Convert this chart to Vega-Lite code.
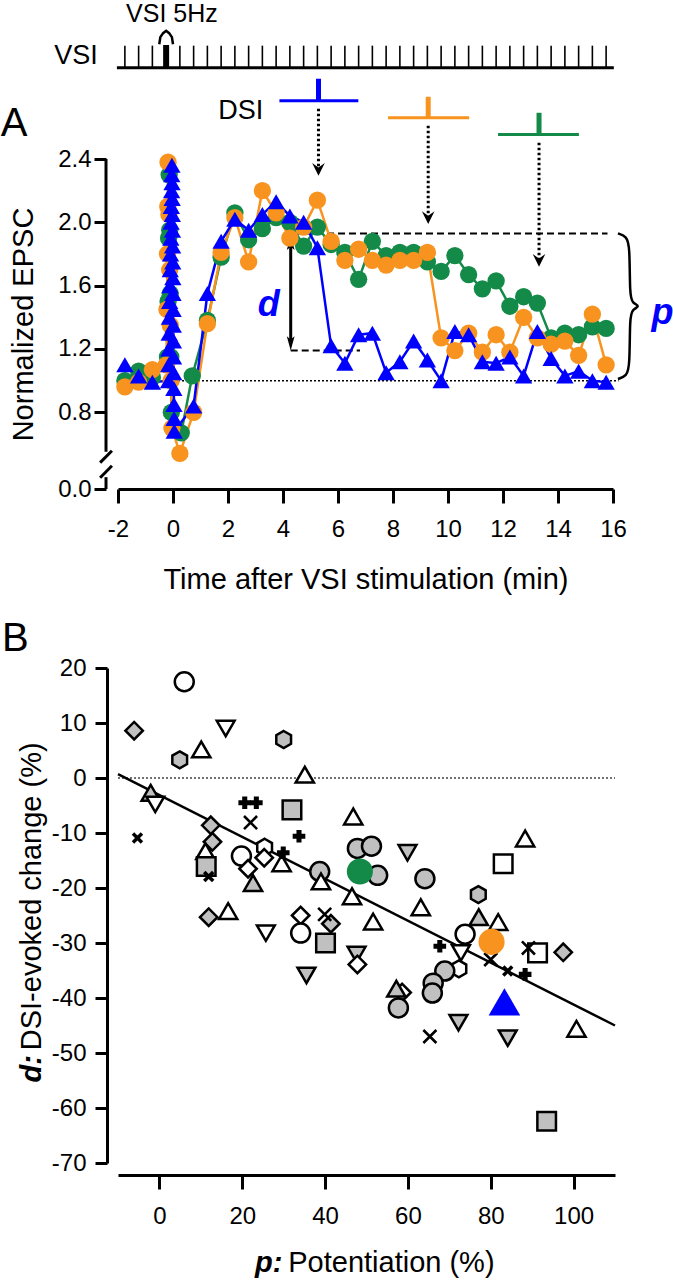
{
  "$schema": "https://vega.github.io/schema/vega-lite/v6.json",
  "autosize": {"type": "pad"},
  "padding": 0,
  "bounds": "flush",
  "spacing": 179,
  "resolve": {"scale": {"color": "independent", "shape": "independent", "size": "independent", "fill": "independent"}},
  "config": {
    "view": {"stroke": null},
    "font": "Liberation Sans",
    "text": {"font": "Liberation Sans", "color": "black"},
    "axis": {"labelFont": "Liberation Sans", "titleFont": "Liberation Sans", "domainColor": "black", "tickColor": "black", "labelColor": "black", "titleColor": "black", "grid": false, "labelFlush": false, "labelOverlap": false, "labelBound": false}
  },
  "vconcat": [
    {
      "width": 495,
      "height": 330,
      "resolve": {"scale": {"color": "independent", "shape": "independent", "size": "independent"}},
      "encoding": {
        "x": {"field": "t", "type": "quantitative", "scale": {"domain": [-2, 16], "nice": false, "zero": false},
          "axis": {"values": [-2, 0, 2, 4, 6, 8, 10, 12, 14, 16], "labelExpr": "'' + datum.value", "domainWidth": 3, "tickSize": 14, "tickWidth": 3, "labelFontSize": 24, "labelPadding": 14, "title": "Time after VSI stimulation (min)", "titleFontSize": 29, "titleFontWeight": "normal", "titleY": 90, "titleBaseline": "middle"}},
        "y": {"field": "v", "type": "quantitative", "scale": {"domain": [0, 0.45, 2.4], "range": [330, 308.7, 0], "nice": false, "zero": false},
          "axis": {"values": [0, 0.8, 1.2, 1.6, 2, 2.4], "format": ".1f", "domain": false, "offset": 12, "tickSize": 12, "tickWidth": 3, "labelFontSize": 24, "labelPadding": 3, "title": "Normalized EPSC", "titleFontSize": 29, "titleFontWeight": "normal", "titleX": -83, "titleBaseline": "middle"}}
      },
      "layer": [
        {"data": {"values": [{"t": -6.244, "t2": 18.229, "v": 3.4}]},
         "mark": {"type": "rule", "strokeWidth": 1, "strokeOpacity": 0},
         "encoding": {"x2": {"field": "t2"}}},
        {"data": {"values": [{"t": -2, "t2": 16.2, "v": 1.0}]},
         "mark": {"type": "rule", "strokeDash": [2, 2], "strokeWidth": 1.5, "color": "black"},
         "encoding": {"x2": {"field": "t2"}}},
        {"data": {"values": [{"t": 4.4, "t2": 15.8, "v": 1.93}, {"t": 4.28, "t2": 6.8, "v": 1.19}]},
         "mark": {"type": "rule", "strokeDash": [7, 4], "strokeWidth": 2, "color": "black"},
         "encoding": {"x2": {"field": "t2"}}},
        {"data": {"values": [{"t": 4.28, "v": 1.85, "v2": 1.25}]},
         "mark": {"type": "rule", "strokeWidth": 3, "color": "black"},
         "encoding": {"y2": {"field": "v2"}}},
        {"data": {"values": [{"t": 4.28, "v": 1.87}]},
         "mark": {"type": "point", "shape": "M0,-1L0.55,1L0,0.55L-0.55,1Z", "filled": true, "color": "black", "opacity": 1, "size": 200},
         "encoding": {}},
        {"data": {"values": [{"t": 4.28, "v": 1.235}]},
         "mark": {"type": "point", "shape": "M0,1L0.55,-1L0,-0.55L-0.55,-1Z", "filled": true, "color": "black", "opacity": 1, "size": 200},
         "encoding": {}},
        {"data": {"values": [
          {"t": -2.436, "t2": -2.436, "v": 0.55, "v2": 2.4},
          {"t": -2.436, "t2": -2.436, "v": 0, "v2": 0.25},
          {"t": -2.65, "t2": -2.22, "v": 0.482, "v2": 0.557},
          {"t": -2.65, "t2": -2.22, "v": 0.239, "v2": 0.462}]},
         "mark": {"type": "rule", "strokeWidth": 3, "color": "black"},
         "encoding": {"x2": {"field": "t2"}, "y2": {"field": "v2"}}},
        {"data": {"values": [{"t": -2.04, "t2": 16.03, "v": 2.977}]},
         "mark": {"type": "rule", "strokeWidth": 3, "color": "black"},
         "encoding": {"x2": {"field": "t2"}}},
        {"data": {"values": [
          {"t": -1.75, "v": 2.977, "v2": 3.116}, {"t": -1.25, "v": 2.977, "v2": 3.116}, {"t": -0.75, "v": 2.977, "v2": 3.116},
          {"t": 0.25, "v": 2.977, "v2": 3.116}, {"t": 0.75, "v": 2.977, "v2": 3.116}, {"t": 1.25, "v": 2.977, "v2": 3.116},
          {"t": 1.75, "v": 2.977, "v2": 3.116}, {"t": 2.25, "v": 2.977, "v2": 3.116}, {"t": 2.75, "v": 2.977, "v2": 3.116},
          {"t": 3.25, "v": 2.977, "v2": 3.116}, {"t": 3.75, "v": 2.977, "v2": 3.116}, {"t": 4.25, "v": 2.977, "v2": 3.116},
          {"t": 4.75, "v": 2.977, "v2": 3.116}, {"t": 5.25, "v": 2.977, "v2": 3.116}, {"t": 5.75, "v": 2.977, "v2": 3.116},
          {"t": 6.25, "v": 2.977, "v2": 3.116}, {"t": 6.75, "v": 2.977, "v2": 3.116}, {"t": 7.25, "v": 2.977, "v2": 3.116},
          {"t": 7.75, "v": 2.977, "v2": 3.116}, {"t": 8.25, "v": 2.977, "v2": 3.116}, {"t": 8.75, "v": 2.977, "v2": 3.116},
          {"t": 9.25, "v": 2.977, "v2": 3.116}, {"t": 9.75, "v": 2.977, "v2": 3.116}, {"t": 10.25, "v": 2.977, "v2": 3.116},
          {"t": 10.75, "v": 2.977, "v2": 3.116}, {"t": 11.25, "v": 2.977, "v2": 3.116}, {"t": 11.75, "v": 2.977, "v2": 3.116},
          {"t": 12.25, "v": 2.977, "v2": 3.116}, {"t": 12.75, "v": 2.977, "v2": 3.116}, {"t": 13.25, "v": 2.977, "v2": 3.116},
          {"t": 13.75, "v": 2.977, "v2": 3.116}, {"t": 14.25, "v": 2.977, "v2": 3.116}, {"t": 14.75, "v": 2.977, "v2": 3.116},
          {"t": 15.25, "v": 2.977, "v2": 3.116}, {"t": 15.75, "v": 2.977, "v2": 3.116}]},
         "mark": {"type": "rule", "strokeWidth": 1.6, "color": "black"},
         "encoding": {"y2": {"field": "v2"}}},
        {"data": {"values": [{"t": -0.25, "v": 2.977, "v2": 3.12}]},
         "mark": {"type": "rule", "strokeWidth": 6, "color": "black"},
         "encoding": {"y2": {"field": "v2"}}},
        {"data": {"values": [
          {"t": -0.5, "v": 3.125, "i": 1}, {"t": -0.46, "v": 3.17, "i": 2}, {"t": -0.36, "v": 3.195, "i": 3},
          {"t": -0.25, "v": 3.21, "i": 4}, {"t": -0.14, "v": 3.195, "i": 5}, {"t": -0.04, "v": 3.17, "i": 6}, {"t": 0.0, "v": 3.125, "i": 7}]},
         "mark": {"type": "line", "strokeWidth": 2.5, "color": "black"},
         "encoding": {"order": {"field": "i"}}},
        {"data": {"values": [
          {"t": 3.87, "t2": 6.74, "v": 2.768, "s": "b"},
          {"t": 7.82, "t2": 10.77, "v": 2.661, "s": "o"},
          {"t": 11.82, "t2": 14.76, "v": 2.554, "s": "g"}]},
         "mark": {"type": "rule", "strokeWidth": 3},
         "encoding": {"x2": {"field": "t2"}, "color": {"field": "s", "scale": {"domain": ["g", "o", "b"], "range": ["#138a48", "#f7931e", "#0000ff"]}, "legend": null}}},
        {"data": {"values": [
          {"t": 5.29, "v": 2.768, "v2": 2.907, "s": "b"},
          {"t": 9.28, "v": 2.661, "v2": 2.793, "s": "o"},
          {"t": 13.31, "v": 2.554, "v2": 2.692, "s": "g"}]},
         "mark": {"type": "rule", "strokeWidth": 5},
         "encoding": {"y2": {"field": "v2"}, "color": {"field": "s", "scale": {"domain": ["g", "o", "b"], "range": ["#138a48", "#f7931e", "#0000ff"]}, "legend": null}}},
        {"data": {"values": [
          {"t": 5.29, "v": 2.717, "v2": 2.334},
          {"t": 9.28, "v": 2.61, "v2": 2.03},
          {"t": 13.31, "v": 2.503, "v2": 1.76}]},
         "mark": {"type": "rule", "strokeWidth": 3, "strokeDash": [2.5, 2.5], "color": "black"},
         "encoding": {"y2": {"field": "v2"}}},
        {"data": {"values": [{"t": 5.29, "v": 2.334}, {"t": 9.28, "v": 2.03}, {"t": 13.31, "v": 1.76}]},
         "mark": {"type": "point", "shape": "M-1,-1L0,1L1,-1L0,-0.3Z", "filled": true, "color": "black", "opacity": 1, "size": 160},
         "encoding": {}},
        {"data": {"name": "series"},
         "mark": {"type": "line", "strokeWidth": 2.5},
         "encoding": {"order": {"field": "i"}, "color": {"field": "s", "scale": {"domain": ["g", "o", "b"], "range": ["#138a48", "#f7931e", "#0000ff"]}, "legend": null}}},
        {"data": {"name": "series"},
         "mark": {"type": "point", "filled": true, "opacity": 1},
         "encoding": {
           "color": {"field": "s", "scale": {"domain": ["g", "o", "b"], "range": ["#138a48", "#f7931e", "#0000ff"]}, "legend": null},
           "shape": {"field": "s", "scale": {"domain": ["g", "o", "b"], "range": ["circle", "circle", "triangle-up"]}, "legend": null},
           "size": {"field": "s", "scale": {"domain": ["g", "o", "b"], "range": [300, 300, 480]}, "legend": null}}},
        {"data": {"values": [
          {"t": 16.18, "v": 1.93, "i": 1}, {"t": 16.5, "v": 1.91, "i": 2}, {"t": 16.61, "v": 1.85, "i": 3}, {"t": 16.61, "v": 1.54, "i": 4},
          {"t": 16.7, "v": 1.49, "i": 5}, {"t": 17.0, "v": 1.47, "i": 6}, {"t": 16.7, "v": 1.45, "i": 7}, {"t": 16.61, "v": 1.4, "i": 8},
          {"t": 16.61, "v": 1.09, "i": 9}, {"t": 16.5, "v": 1.03, "i": 10}, {"t": 16.18, "v": 1.01, "i": 11}]},
         "mark": {"type": "line", "strokeWidth": 2.5, "color": "black", "interpolate": "basis"},
         "encoding": {"order": {"field": "i"}}},
        {"data": {"values": [{"t": -5.78, "v": 2.62, "txt": "A"}]},
         "mark": {"type": "text", "fontSize": 40, "align": "center", "baseline": "middle"},
         "encoding": {"text": {"field": "txt"}}},
        {"data": {"values": [{"t": -3.53, "v": 3.05, "txt": "VSI"}, {"t": 2.46, "v": 2.705, "txt": "DSI"}]},
         "mark": {"type": "text", "fontSize": 27, "align": "center", "baseline": "middle"},
         "encoding": {"text": {"field": "txt"}}},
        {"data": {"values": [{"t": -0.04, "v": 3.315, "txt": "VSI 5Hz"}]},
         "mark": {"type": "text", "fontSize": 25, "align": "center", "baseline": "middle"},
         "encoding": {"text": {"field": "txt"}}},
        {"data": {"values": [{"t": 3.48, "v": 1.48, "txt": "d"}, {"t": 17.8, "v": 1.43, "txt": "p"}]},
         "mark": {"type": "text", "fontSize": 36, "fontWeight": "bold", "fontStyle": "italic", "color": "#0000ff", "align": "center", "baseline": "middle"},
         "encoding": {"text": {"field": "txt"}}}
      ]
    },
    {
      "width": 497,
      "height": 495,
      "resolve": {"scale": {"color": "independent", "shape": "independent", "size": "independent", "fill": "independent"}},
      "encoding": {
        "x": {"field": "p", "type": "quantitative", "scale": {"domain": [-10, 110], "nice": false, "zero": false},
          "axis": {"values": [0, 20, 40, 60, 80, 100], "labelExpr": "'' + datum.value", "offset": 12, "domainWidth": 3, "tickSize": 14, "tickWidth": 3, "labelFontSize": 24, "labelPadding": 15, "title": null}},
        "y": {"field": "d", "type": "quantitative", "scale": {"domain": [-70, 20], "nice": false, "zero": false},
          "axis": {"values": [-70, -60, -50, -40, -30, -20, -10, 0, 10, 20], "labelExpr": "'' + datum.value", "offset": 11, "domainWidth": 3, "tickSize": 12, "tickWidth": 3, "labelFontSize": 24, "labelPadding": 9, "title": null}}
      },
      "layer": [
        {"data": {"values": [{"p": -10, "p2": 110, "d": -91.3}]},
         "mark": {"type": "rule", "strokeWidth": 1, "strokeOpacity": 0},
         "encoding": {"x2": {"field": "p2"}}},
        {"data": {"values": [{"p": -10, "p2": 110, "d": 0}]},
         "mark": {"type": "rule", "strokeDash": [2, 2], "strokeWidth": 1.5, "color": "#444444"},
         "encoding": {"x2": {"field": "p2"}}},
        {"data": {"values": [{"p": -10, "p2": 110, "d": 0.7, "d2": -45}]},
         "mark": {"type": "rule", "strokeWidth": 2.5, "color": "black"},
         "encoding": {"x2": {"field": "p2"}, "y2": {"field": "d2"}}},
        {"data": {"name": "pts"},
         "mark": {"type": "point", "filled": true, "stroke": "black", "strokeWidth": 2.5, "opacity": 1, "fillOpacity": 1, "strokeOpacity": 1},
         "encoding": {
           "fill": {"field": "f", "scale": {"domain": ["gray", "open"], "range": ["#c0c0c0", "#ffffff"]}, "legend": null},
           "shape": {"field": "sh", "scale": {"domain": ["circle", "square", "tri", "dtri", "diamond", "hex"], "range": ["circle", "square", "triangle-up", "triangle-down", "diamond", "M0,-1L0.866,-0.5L0.866,0.5L0,1L-0.866,0.5L-0.866,-0.5Z"]}, "legend": null},
           "size": {"field": "sh", "scale": {"domain": ["circle", "square", "tri", "dtri", "diamond", "hex"], "range": [360, 290, 440, 440, 540, 460]}, "legend": null}}},
        {"data": {"values": [{"p": -5.3, "d": -10.9}, {"p": 11.9, "d": -17.9}, {"p": 84.1, "d": -35.1}]},
         "mark": {"type": "point", "shape": "M-1,-1L1,1M-1,1L1,-1", "filled": false, "color": "black", "strokeWidth": 3.5, "opacity": 1, "size": 80},
         "encoding": {}},
        {"data": {"values": [{"p": 22.0, "d": -8.1}, {"p": 39.9, "d": -24.8}, {"p": 89.1, "d": -30.9}, {"p": 65.3, "d": -47.0}, {"p": 80, "d": -33}]},
         "mark": {"type": "point", "shape": "M-1,-1L1,1M-1,1L1,-1", "filled": false, "color": "black", "strokeWidth": 2.6, "opacity": 1, "size": 170},
         "encoding": {}},
        {"data": {"values": [{"p": 20.6, "d": -4.5}, {"p": 23.4, "d": -4.5}, {"p": 33.7, "d": -10.6}, {"p": 29.9, "d": -13.6}, {"p": 67.7, "d": -30.6}, {"p": 88.3, "d": -35.7}]},
         "mark": {"type": "point", "shape": "cross", "filled": true, "color": "black", "opacity": 1, "size": 160},
         "encoding": {}},
        {"data": {"values": [{"p": 48.4, "d": -17.0, "s": "g"}, {"p": 80.2, "d": -29.8, "s": "o"}]},
         "mark": {"type": "point", "shape": "circle", "filled": true, "opacity": 1, "size": 680},
         "encoding": {"color": {"field": "s", "scale": {"domain": ["g", "o", "b"], "range": ["#138a48", "#f7931e", "#0000ff"]}, "legend": null}}},
        {"data": {"values": [{"p": 83.3, "d": -40.7}]},
         "mark": {"type": "point", "shape": "triangle-up", "filled": true, "opacity": 1, "size": 1000, "color": "#0000ff"},
         "encoding": {}},
        {"data": {"values": [{"p": -34.8, "d": 25.2, "txt": "B"}]},
         "mark": {"type": "text", "fontSize": 40, "align": "center", "baseline": "middle"},
         "encoding": {"text": {"field": "txt"}}},
        {"data": {"values": [{"p": -30.7, "d": -49.5, "txt": "DSI-evoked change (%)"}]},
         "mark": {"type": "text", "fontSize": 29, "angle": 270, "align": "left", "baseline": "middle"},
         "encoding": {"text": {"field": "txt"}}},
        {"data": {"values": [{"p": -30.7, "d": -50.4, "txt": "d:"}]},
         "mark": {"type": "text", "fontSize": 29, "fontWeight": "bold", "fontStyle": "italic", "angle": 270, "align": "right", "baseline": "middle"},
         "encoding": {"text": {"field": "txt"}}},
        {"data": {"values": [{"p": 29.7, "d": -88.2, "txt": "p:"}]},
         "mark": {"type": "text", "fontSize": 29, "fontWeight": "bold", "fontStyle": "italic", "align": "right", "baseline": "middle"},
         "encoding": {"text": {"field": "txt"}}},
        {"data": {"values": [{"p": 31.1, "d": -88.2, "txt": "Potentiation (%)"}]},
         "mark": {"type": "text", "fontSize": 29, "align": "left", "baseline": "middle"},
         "encoding": {"text": {"field": "txt"}}}
      ]
    }
  ],
  "datasets": {
    "series": [
      {"s": "g", "i": 1, "t": -1.75, "v": 1.0}, {"s": "g", "i": 2, "t": -1.25, "v": 1.06}, {"s": "g", "i": 3, "t": -0.75, "v": 1.02},
      {"s": "g", "i": 4, "t": -0.2, "v": 1.15}, {"s": "g", "i": 5, "t": -0.18, "v": 1.5}, {"s": "g", "i": 6, "t": -0.16, "v": 1.9},
      {"s": "g", "i": 7, "t": -0.14, "v": 2.3}, {"s": "g", "i": 8, "t": -0.12, "v": 1.95}, {"s": "g", "i": 9, "t": -0.1, "v": 1.55},
      {"s": "g", "i": 10, "t": -0.08, "v": 1.15}, {"s": "g", "i": 11, "t": -0.06, "v": 0.8}, {"s": "g", "i": 12, "t": 0.3, "v": 0.67},
      {"s": "g", "i": 13, "t": 0.7, "v": 1.03}, {"s": "g", "i": 14, "t": 1.25, "v": 1.38}, {"s": "g", "i": 15, "t": 1.75, "v": 1.78},
      {"s": "g", "i": 16, "t": 2.25, "v": 2.06}, {"s": "g", "i": 17, "t": 2.75, "v": 1.89}, {"s": "g", "i": 18, "t": 3.25, "v": 1.96},
      {"s": "g", "i": 19, "t": 3.75, "v": 2.03}, {"s": "g", "i": 20, "t": 4.25, "v": 2.0}, {"s": "g", "i": 21, "t": 4.75, "v": 1.85},
      {"s": "g", "i": 22, "t": 5.25, "v": 1.97}, {"s": "g", "i": 23, "t": 5.75, "v": 1.86}, {"s": "g", "i": 24, "t": 6.25, "v": 1.81},
      {"s": "g", "i": 25, "t": 6.75, "v": 1.64}, {"s": "g", "i": 26, "t": 7.25, "v": 1.88}, {"s": "g", "i": 27, "t": 7.75, "v": 1.79},
      {"s": "g", "i": 28, "t": 8.25, "v": 1.81}, {"s": "g", "i": 29, "t": 8.75, "v": 1.81}, {"s": "g", "i": 30, "t": 9.25, "v": 1.75},
      {"s": "g", "i": 31, "t": 9.75, "v": 1.69}, {"s": "g", "i": 32, "t": 10.25, "v": 1.79}, {"s": "g", "i": 33, "t": 10.75, "v": 1.67},
      {"s": "g", "i": 34, "t": 11.25, "v": 1.58}, {"s": "g", "i": 35, "t": 11.75, "v": 1.63}, {"s": "g", "i": 36, "t": 12.25, "v": 1.47},
      {"s": "g", "i": 37, "t": 12.75, "v": 1.53}, {"s": "g", "i": 38, "t": 13.25, "v": 1.49}, {"s": "g", "i": 39, "t": 13.75, "v": 1.27},
      {"s": "g", "i": 40, "t": 14.25, "v": 1.3}, {"s": "g", "i": 41, "t": 14.75, "v": 1.29}, {"s": "g", "i": 42, "t": 15.25, "v": 1.34},
      {"s": "g", "i": 43, "t": 15.75, "v": 1.33},
      {"s": "o", "i": 1, "t": -1.75, "v": 0.96}, {"s": "o", "i": 2, "t": -1.25, "v": 0.99}, {"s": "o", "i": 3, "t": -0.75, "v": 1.07},
      {"s": "o", "i": 4, "t": -0.24, "v": 1.1}, {"s": "o", "i": 5, "t": -0.22, "v": 1.45}, {"s": "o", "i": 6, "t": -0.2, "v": 1.8},
      {"s": "o", "i": 7, "t": -0.19, "v": 2.1}, {"s": "o", "i": 8, "t": -0.18, "v": 2.38}, {"s": "o", "i": 9, "t": -0.15, "v": 2.05},
      {"s": "o", "i": 10, "t": -0.12, "v": 1.7}, {"s": "o", "i": 11, "t": -0.1, "v": 1.35}, {"s": "o", "i": 12, "t": -0.07, "v": 1.0},
      {"s": "o", "i": 13, "t": -0.04, "v": 0.7}, {"s": "o", "i": 14, "t": 0.25, "v": 0.54}, {"s": "o", "i": 15, "t": 0.75, "v": 0.8},
      {"s": "o", "i": 16, "t": 1.25, "v": 1.36}, {"s": "o", "i": 17, "t": 1.75, "v": 1.81}, {"s": "o", "i": 18, "t": 2.25, "v": 2.03},
      {"s": "o", "i": 19, "t": 2.75, "v": 1.75}, {"s": "o", "i": 20, "t": 3.25, "v": 2.2}, {"s": "o", "i": 21, "t": 3.75, "v": 2.06},
      {"s": "o", "i": 22, "t": 4.25, "v": 1.9}, {"s": "o", "i": 23, "t": 4.75, "v": 1.97}, {"s": "o", "i": 24, "t": 5.25, "v": 2.14},
      {"s": "o", "i": 25, "t": 5.75, "v": 1.88}, {"s": "o", "i": 26, "t": 6.25, "v": 1.76}, {"s": "o", "i": 27, "t": 6.75, "v": 1.83},
      {"s": "o", "i": 28, "t": 7.25, "v": 1.76}, {"s": "o", "i": 29, "t": 7.75, "v": 1.73}, {"s": "o", "i": 30, "t": 8.25, "v": 1.76},
      {"s": "o", "i": 31, "t": 8.75, "v": 1.76}, {"s": "o", "i": 32, "t": 9.25, "v": 1.81}, {"s": "o", "i": 33, "t": 9.75, "v": 1.27},
      {"s": "o", "i": 34, "t": 10.25, "v": 1.19}, {"s": "o", "i": 35, "t": 10.75, "v": 1.3}, {"s": "o", "i": 36, "t": 11.25, "v": 1.18},
      {"s": "o", "i": 37, "t": 11.75, "v": 1.29}, {"s": "o", "i": 38, "t": 12.25, "v": 1.18}, {"s": "o", "i": 39, "t": 12.75, "v": 1.4},
      {"s": "o", "i": 40, "t": 13.25, "v": 1.27}, {"s": "o", "i": 41, "t": 13.75, "v": 1.23}, {"s": "o", "i": 42, "t": 14.25, "v": 1.25},
      {"s": "o", "i": 43, "t": 14.75, "v": 1.16}, {"s": "o", "i": 44, "t": 15.25, "v": 1.42}, {"s": "o", "i": 45, "t": 15.75, "v": 1.1},
      {"s": "b", "i": 1, "t": -1.75, "v": 1.1}, {"s": "b", "i": 2, "t": -1.25, "v": 1.03}, {"s": "b", "i": 3, "t": -0.75, "v": 0.99},
      {"s": "b", "i": 4, "t": -0.16, "v": 1.0}, {"s": "b", "i": 5, "t": -0.155, "v": 1.1}, {"s": "b", "i": 6, "t": -0.15, "v": 1.2},
      {"s": "b", "i": 7, "t": -0.14, "v": 1.3}, {"s": "b", "i": 8, "t": -0.13, "v": 1.4}, {"s": "b", "i": 9, "t": -0.12, "v": 1.5},
      {"s": "b", "i": 10, "t": -0.11, "v": 1.6}, {"s": "b", "i": 11, "t": -0.1, "v": 1.7}, {"s": "b", "i": 12, "t": -0.09, "v": 1.8},
      {"s": "b", "i": 13, "t": -0.08, "v": 1.9}, {"s": "b", "i": 14, "t": -0.07, "v": 2.0}, {"s": "b", "i": 15, "t": -0.06, "v": 2.1},
      {"s": "b", "i": 16, "t": -0.05, "v": 2.2}, {"s": "b", "i": 17, "t": -0.045, "v": 2.3}, {"s": "b", "i": 18, "t": -0.04, "v": 2.36},
      {"s": "b", "i": 19, "t": -0.035, "v": 2.25}, {"s": "b", "i": 20, "t": -0.03, "v": 2.15}, {"s": "b", "i": 21, "t": -0.025, "v": 2.05},
      {"s": "b", "i": 22, "t": -0.02, "v": 1.95}, {"s": "b", "i": 23, "t": -0.015, "v": 1.85}, {"s": "b", "i": 24, "t": -0.01, "v": 1.75},
      {"s": "b", "i": 25, "t": -0.005, "v": 1.65}, {"s": "b", "i": 26, "t": 0.0, "v": 1.55}, {"s": "b", "i": 27, "t": 0.005, "v": 1.45},
      {"s": "b", "i": 28, "t": 0.01, "v": 1.35}, {"s": "b", "i": 29, "t": 0.015, "v": 1.25}, {"s": "b", "i": 30, "t": 0.02, "v": 1.15},
      {"s": "b", "i": 31, "t": 0.025, "v": 1.05}, {"s": "b", "i": 32, "t": 0.03, "v": 0.95}, {"s": "b", "i": 33, "t": 0.035, "v": 0.85},
      {"s": "b", "i": 34, "t": 0.04, "v": 0.76}, {"s": "b", "i": 35, "t": 0.045, "v": 0.68},
      {"s": "b", "i": 36, "t": 0.75, "v": 0.84}, {"s": "b", "i": 37, "t": 1.25, "v": 1.55}, {"s": "b", "i": 38, "t": 1.75, "v": 1.88},
      {"s": "b", "i": 39, "t": 2.25, "v": 2.02}, {"s": "b", "i": 40, "t": 2.75, "v": 1.95}, {"s": "b", "i": 41, "t": 3.25, "v": 2.05},
      {"s": "b", "i": 42, "t": 3.75, "v": 2.13}, {"s": "b", "i": 43, "t": 4.25, "v": 2.04}, {"s": "b", "i": 44, "t": 4.75, "v": 2.0},
      {"s": "b", "i": 45, "t": 5.25, "v": 1.84}, {"s": "b", "i": 46, "t": 5.75, "v": 1.22}, {"s": "b", "i": 47, "t": 6.25, "v": 1.11},
      {"s": "b", "i": 48, "t": 6.75, "v": 1.29}, {"s": "b", "i": 49, "t": 7.25, "v": 1.3}, {"s": "b", "i": 50, "t": 7.75, "v": 1.05},
      {"s": "b", "i": 51, "t": 8.25, "v": 1.12}, {"s": "b", "i": 52, "t": 8.75, "v": 1.25}, {"s": "b", "i": 53, "t": 9.25, "v": 1.13},
      {"s": "b", "i": 54, "t": 9.75, "v": 1.0}, {"s": "b", "i": 55, "t": 10.25, "v": 1.31}, {"s": "b", "i": 56, "t": 10.75, "v": 1.29},
      {"s": "b", "i": 57, "t": 11.25, "v": 1.12}, {"s": "b", "i": 58, "t": 11.75, "v": 1.11}, {"s": "b", "i": 59, "t": 12.25, "v": 1.15},
      {"s": "b", "i": 60, "t": 12.75, "v": 1.03}, {"s": "b", "i": 61, "t": 13.25, "v": 1.31}, {"s": "b", "i": 62, "t": 13.75, "v": 1.14},
      {"s": "b", "i": 63, "t": 14.25, "v": 1.03}, {"s": "b", "i": 64, "t": 14.75, "v": 1.06}, {"s": "b", "i": 65, "t": 15.25, "v": 1.0},
      {"s": "b", "i": 66, "t": 15.75, "v": 0.99}
    ],
    "pts": [
      {"p": 6, "d": 17.5, "sh": "circle", "f": "open"},
      {"p": -6.1, "d": 8.6, "sh": "diamond", "f": "gray"},
      {"p": 4.9, "d": 3.3, "sh": "hex", "f": "gray"},
      {"p": 10.1, "d": 5.2, "sh": "tri", "f": "open"},
      {"p": 16, "d": 9, "sh": "dtri", "f": "open"},
      {"p": 30, "d": 7, "sh": "hex", "f": "gray"},
      {"p": 35.1, "d": 0.6, "sh": "tri", "f": "open"},
      {"p": -2.1, "d": -2.7, "sh": "tri", "f": "gray"},
      {"p": -1.0, "d": -4.8, "sh": "dtri", "f": "open"},
      {"p": 32.0, "d": -5.8, "sh": "square", "f": "gray"},
      {"p": 46.8, "d": -7.0, "sh": "tri", "f": "open"},
      {"p": 47.8, "d": -12.8, "sh": "circle", "f": "gray"},
      {"p": 51.2, "d": -12.4, "sh": "circle", "f": "gray"},
      {"p": 59.9, "d": -13.6, "sh": "dtri", "f": "gray"},
      {"p": 12.4, "d": -8.6, "sh": "diamond", "f": "gray"},
      {"p": 12.8, "d": -11.6, "sh": "diamond", "f": "gray"},
      {"p": 11.1, "d": -13.3, "sh": "tri", "f": "open"},
      {"p": 11.3, "d": -16.1, "sh": "square", "f": "gray"},
      {"p": 19.8, "d": -14.2, "sh": "circle", "f": "open"},
      {"p": 25.4, "d": -12.6, "sh": "hex", "f": "open"},
      {"p": 25.3, "d": -14.5, "sh": "diamond", "f": "open"},
      {"p": 21.4, "d": -16.5, "sh": "diamond", "f": "open"},
      {"p": 22.6, "d": -19.1, "sh": "tri", "f": "gray"},
      {"p": 29.5, "d": -15.5, "sh": "tri", "f": "open"},
      {"p": 38.7, "d": -17.0, "sh": "circle", "f": "gray"},
      {"p": 39.0, "d": -18.8, "sh": "tri", "f": "open"},
      {"p": 52.7, "d": -17.7, "sh": "circle", "f": "gray"},
      {"p": 46.5, "d": -21.5, "sh": "tri", "f": "open"},
      {"p": 11.9, "d": -25.3, "sh": "diamond", "f": "gray"},
      {"p": 16.6, "d": -24.2, "sh": "tri", "f": "open"},
      {"p": 25.7, "d": -28.2, "sh": "dtri", "f": "open"},
      {"p": 34.1, "d": -25.0, "sh": "diamond", "f": "open"},
      {"p": 34.1, "d": -28.2, "sh": "circle", "f": "open"},
      {"p": 41.4, "d": -26.5, "sh": "diamond", "f": "gray"},
      {"p": 40.1, "d": -30.0, "sh": "square", "f": "gray"},
      {"p": 51.6, "d": -26.1, "sh": "tri", "f": "open"},
      {"p": 35.5, "d": -35.9, "sh": "dtri", "f": "gray"},
      {"p": 47.6, "d": -32.1, "sh": "dtri", "f": "gray"},
      {"p": 47.8, "d": -33.9, "sh": "diamond", "f": "open"},
      {"p": 58.6, "d": -39.0, "sh": "diamond", "f": "open"},
      {"p": 57.2, "d": -38.3, "sh": "tri", "f": "gray"},
      {"p": 57.7, "d": -41.8, "sh": "circle", "f": "gray"},
      {"p": 88.3, "d": -11.0, "sh": "tri", "f": "open"},
      {"p": 83.0, "d": -15.6, "sh": "square", "f": "open"},
      {"p": 64.1, "d": -18.3, "sh": "circle", "f": "gray"},
      {"p": 63.1, "d": -23.5, "sh": "tri", "f": "open"},
      {"p": 77.0, "d": -21.2, "sh": "hex", "f": "gray"},
      {"p": 77.1, "d": -25.3, "sh": "tri", "f": "gray"},
      {"p": 81.8, "d": -26.2, "sh": "tri", "f": "open"},
      {"p": 73.8, "d": -28.4, "sh": "circle", "f": "open"},
      {"p": 72.8, "d": -31.8, "sh": "dtri", "f": "open"},
      {"p": 91.3, "d": -31.8, "sh": "square", "f": "open"},
      {"p": 97.5, "d": -31.7, "sh": "diamond", "f": "gray"},
      {"p": 72.3, "d": -34.7, "sh": "hex", "f": "open"},
      {"p": 68.9, "d": -35.1, "sh": "circle", "f": "gray"},
      {"p": 66.1, "d": -37.3, "sh": "circle", "f": "gray"},
      {"p": 65.9, "d": -39.1, "sh": "circle", "f": "gray"},
      {"p": 72.2, "d": -44.5, "sh": "dtri", "f": "gray"},
      {"p": 84.1, "d": -47.3, "sh": "dtri", "f": "gray"},
      {"p": 100.7, "d": -45.6, "sh": "tri", "f": "open"},
      {"p": 93.5, "d": -62.4, "sh": "square", "f": "gray"}
    ]
  }
}
